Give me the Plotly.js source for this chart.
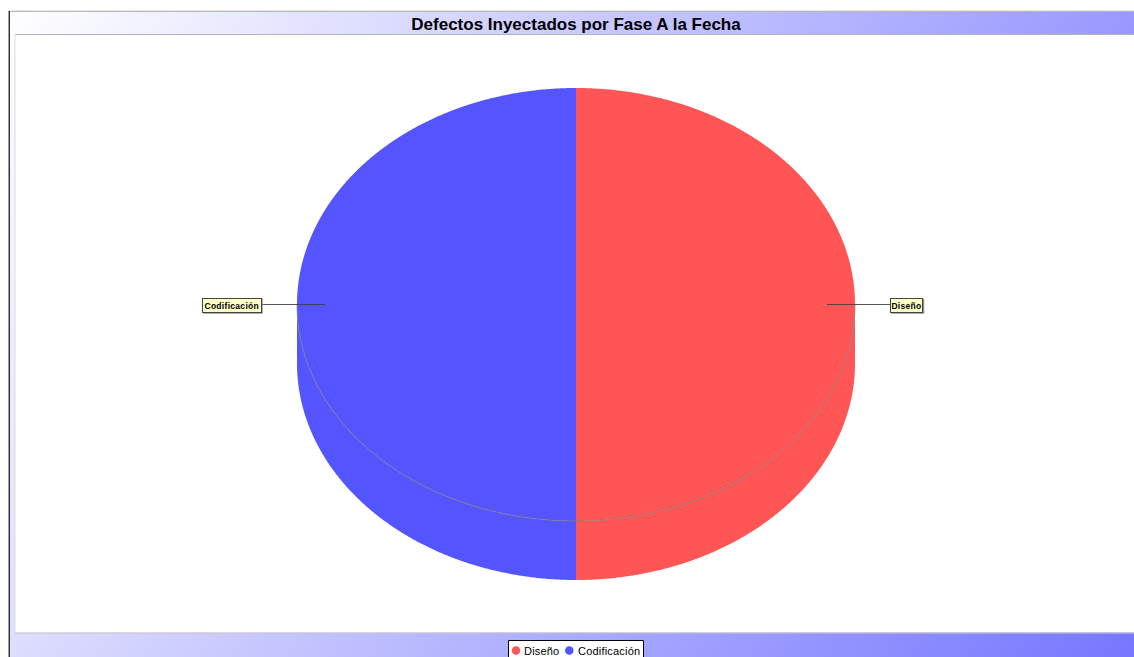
<!DOCTYPE html>
<html><head><meta charset="utf-8">
<script src="https://cdn.plot.ly/plotly-3.0.1.min.js"></script>
<style>
html,body{margin:0;padding:0;background:#fff;overflow:hidden}
#bg{position:absolute;left:8px;top:11px;width:1126px;height:646px;background:linear-gradient(120deg,#ffffff,#7777ff)}
#chart{position:absolute;left:0;top:0;width:1134px;height:657px}
</style></head><body>
<div id="bg"></div><div id="chart"></div>
<script>
const categories = ["Diseño", "Codificación"];
const values = [50, 50];
const sliceColors = ["#FF5555", "#5555FF"];
const chartTitle = "Defectos Inyectados por Fase A la Fecha";

const cx = 576, cy = 304.5, rx = 279, ry = 216.5, depth = 59;
const total = values.reduce((a, b) => a + b, 0);

function arc(fromDeg, toDeg) {
  const out = [];
  const n = Math.round((toDeg - fromDeg) * 4);
  for (let k = 0; k <= n; k++) {
    const t = (fromDeg + (toDeg - fromDeg) * k / n) * Math.PI / 180;
    out.push([cx + rx * Math.sin(t), cy - ry * Math.cos(t)]);
  }
  return out;
}
function poly(points, color, name) {
  return {x: points.map(p => p[0]), y: points.map(p => p[1]), mode: "lines", fill: "toself",
    fillcolor: color, line: {width: 0, color: color, simplify: false}, hoverinfo: "skip", showlegend: false, name: name};
}
const walls = [], tops = [], rims = [];
let start = 0;
values.forEach((v, i) => {
  const end = start + 360 * v / total;
  tops.push(poly([[cx, cy]].concat(arc(start, end)), sliceColors[i], categories[i]));
  const lo = Math.max(start, 90), hi = Math.min(end, 270);
  if (hi > lo) {
    const r = arc(lo, hi);
    const shifted = r.map(p => [p[0], p[1] + depth]).reverse();
    walls.push(poly(r.concat(shifted), sliceColors[i], categories[i]));
    rims.push({x: r.map(p => p[0]), y: r.map(p => p[1]), mode: "lines",
      line: {width: 1, color: "rgba(128,128,128,0.75)", simplify: false}, hoverinfo: "skip", showlegend: false});
  }
  start = end;
});

const labelBoxes = [
  {text: categories[0], x0: 890, x1: 923, y0: 297.5, y1: 312.5, from: 827, to: 890},
  {text: categories[1], x0: 202, x1: 261.5, y0: 297.5, y1: 312.5, from: 325, to: 261.5}
];
const leaders = labelBoxes.map(b => ({x: [b.from, b.to], y: [cy, cy], mode: "lines",
  line: {width: 1, color: "rgba(60,60,60,0.85)"}, hoverinfo: "skip", showlegend: false}));

const legendDotX = [516, 569.3], legendTextX = [522, 575.5], legendY = 650.5;
const legendDots = categories.map((c, i) => ({x: [legendDotX[i]], y: [legendY], mode: "markers", name: c,
  marker: {symbol: "circle", size: 8.5, color: sliceColors[i], line: {width: 0}}, hoverinfo: "skip", showlegend: false}));

const line = (x0, y0, x1, y1, c) => ({type: "line", xref: "x", yref: "y", x0, y0, x1, y1, layer: "below", line: {color: c, width: 1}});
const shapes = [
  {type: "rect", xref: "x", yref: "y", x0: 15, x1: 1134, y0: 34.5, y1: 632.5, layer: "below", fillcolor: "#fff", line: {width: 0}},
  line(15, 34.5, 1134, 34.5, "#b4b4b8"),
  line(15, 34, 15, 633, "#dcdcdc"),
  line(15, 633, 1134, 633, "#c8c8c8"),
  line(8, 10.5, 1134, 10.5, "#e8e8e8"),
  line(8, 11.5, 1134, 11.5, "#b8b8b8"),
  line(8.5, 11, 8.5, 657, "#a0a0a0"),
  line(9.5, 11, 9.5, 657, "#303030"),
  {type: "rect", xref: "x", yref: "y", x0: 508.5, x1: 643.5, y0: 640.5, y1: 670, layer: "below", fillcolor: "#fff", line: {color: "#000", width: 1}}
];
labelBoxes.forEach(b => shapes.push({type: "rect", xref: "x", yref: "y", x0: b.x0 + 1.2, x1: b.x1 + 1.2, y0: b.y0 + 1.2, y1: b.y1 + 1.2,
  layer: "above", fillcolor: "#909090", line: {width: 0}}));

const annotations = labelBoxes.map(b => ({
  xref: "x", yref: "y", x: (b.x0 + b.x1) / 2, y: (b.y0 + b.y1) / 2, xanchor: "center", yanchor: "middle",
  showarrow: false, text: '<span style="letter-spacing:0.3px">' + b.text + '</span>', width: b.x1 - b.x0 - 2, height: b.y1 - b.y0 - 2, borderpad: 0, borderwidth: 1,
  bordercolor: "#444", bgcolor: "#FFFFC8", font: {family: "Liberation Sans", size: 8.5, color: "#000", weight: "bold"}
})).concat(categories.map((c, i) => ({
  xref: "x", yref: "y", x: legendTextX[i], y: legendY, xanchor: "left", yanchor: "middle", showarrow: false,
  text: '<span style="letter-spacing:0.2px">' + c + '</span>', font: {family: "Liberation Sans", size: 11, color: "#000"}
})));

const layout = {
  width: 1134, height: 657, margin: {l: 0, r: 0, t: 0, b: 0, autoexpand: false},
  paper_bgcolor: "rgba(0,0,0,0)", plot_bgcolor: "rgba(0,0,0,0)",
  xaxis: {range: [0, 1134], visible: false, fixedrange: true},
  yaxis: {range: [657, 0], visible: false, fixedrange: true},
  title: {text: "<b>" + chartTitle + "</b>", font: {family: "Liberation Sans", size: 17, color: "#000"},
    x: 576 / 1134, xanchor: "center", y: 1 - 24 / 657, yanchor: "middle"},
  showlegend: false,
  shapes, annotations, hovermode: false
};
Plotly.newPlot("chart", walls.concat(tops, rims, leaders, legendDots), layout, {displayModeBar: false, staticPlot: true});
</script>
</body></html>
